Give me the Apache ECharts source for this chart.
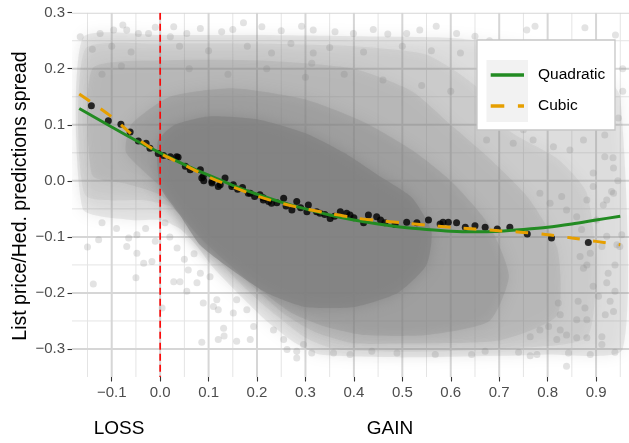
<!DOCTYPE html>
<html><head><meta charset="utf-8">
<script src="https://cdn.jsdelivr.net/npm/echarts@6/dist/echarts.min.js"></script>
<style>html,body{margin:0;padding:0;background:#fff}#c{width:629px;height:443px}</style>
</head><body><div id="c"></div><script>
// ---- axis limits and ticks ----
const X_MIN = -0.182, X_MAX = 0.968, Y_MIN = -0.35, Y_MAX = 0.3;
const xTicks = [-0.1, 0, 0.1, 0.2, 0.3, 0.4, 0.5, 0.6, 0.7, 0.8, 0.9];
const xMinorGrid = [-0.15, -0.05, 0.05, 0.15, 0.25, 0.35, 0.45, 0.55, 0.65, 0.75, 0.85, 0.95];
const yTicks = [-0.3, -0.2, -0.1, 0, 0.1, 0.2, 0.3];
const yMinorGrid = [-0.25, -0.15, -0.05, 0.05, 0.15, 0.25];
const vlineX = [0];

// ---- density of the raw scatter cloud, as nested outlines (outer -> core) ----
const cloudLayer1 = [[-0.16,0.255],[0.0,0.26],[0.2,0.26],[0.4,0.258],[0.6,0.255],[0.75,0.24],[0.9,0.2],[0.95,0.15],[0.955,-0.3],[0.8,-0.31],[0.5,-0.315],[0.33,-0.31],[0.28,-0.29],[0.22,-0.25],[0.16,-0.2],[0.11,-0.155],[0.07,-0.11],[0.04,-0.085],[0.0,-0.07],[-0.06,-0.07],[-0.16,-0.05]];
const cloudLayer2 = [[-0.155,0.235],[0.0,0.245],[0.2,0.245],[0.4,0.24],[0.55,0.225],[0.65,0.17],[0.72,0.09],[0.82,0.04],[0.88,-0.02],[0.9,-0.15],[0.88,-0.28],[0.7,-0.3],[0.5,-0.305],[0.36,-0.3],[0.3,-0.28],[0.24,-0.24],[0.18,-0.195],[0.13,-0.15],[0.09,-0.11],[0.05,-0.07],[0.02,-0.045],[-0.03,-0.035],[-0.155,-0.025]];
const cloudLayer3 = [[-0.14,0.2],[0.0,0.215],[0.2,0.215],[0.4,0.2],[0.52,0.16],[0.6,0.1],[0.68,0.04],[0.76,-0.03],[0.82,-0.12],[0.82,-0.24],[0.7,-0.285],[0.5,-0.29],[0.4,-0.29],[0.32,-0.27],[0.26,-0.24],[0.2,-0.195],[0.15,-0.155],[0.1,-0.115],[0.05,-0.07],[0.0,-0.025],[-0.07,-0.005],[-0.14,0.01]];
const cloudLayer4 = [[-0.07,0.05],[-0.06,0.1],[0.02,0.15],[0.15,0.165],[0.3,0.145],[0.42,0.105],[0.52,0.055],[0.6,0.0],[0.68,-0.08],[0.72,-0.17],[0.68,-0.25],[0.55,-0.275],[0.42,-0.275],[0.34,-0.26],[0.27,-0.235],[0.2,-0.19],[0.13,-0.14],[0.07,-0.09],[0.03,-0.045],[0.0,-0.01]];
const cloudCore = [[-0.005,0.07],[0.03,0.1],[0.1,0.115],[0.2,0.11],[0.3,0.085],[0.38,0.05],[0.45,0.01],[0.52,-0.03],[0.56,-0.09],[0.55,-0.15],[0.49,-0.2],[0.4,-0.225],[0.3,-0.225],[0.22,-0.2],[0.15,-0.16],[0.083,-0.115],[0.04,-0.06],[0.0,-0.01]];
const cloudLayerAlpha = [0.26, 0.17, 0.24, 0.43, 0.85];

// ---- individually visible raw points (sparse fringe and texture) ----
const rawPoints = [
[-0.077,0.278],[-0.124,0.263],[-0.01,0.274],[0.172,0.282],[0.292,0.276],[0.21,0.275],[-0.165,0.257],[0.028,0.275],[0.083,0.272],[0.127,0.266],[0.316,0.228],[0.313,0.21],
[0.570,0.276],[0.612,0.263],[0.774,0.276],[0.757,0.269],[0.877,0.273],[0.536,0.269],[0.509,0.263],[0.399,0.263],[0.361,0.266],[0.316,0.269],[0.702,0.245],[0.805,0.234],
[-0.045,0.263],[-0.024,0.263],[0.055,0.263],[0.021,0.257],[-0.069,0.269],[-0.096,0.269],[0.15,0.27],[0.25,0.268],[0.44,0.27],[0.47,0.262],[0.65,0.258],[0.68,0.25],
[-0.14,0.235],[-0.1,0.24],[-0.06,0.23],[0.04,0.24],[0.1,0.232],[0.18,0.24],[0.23,0.228],[0.27,0.245],[0.35,0.238],[0.42,0.23],[0.5,0.24],[0.56,0.232],[0.62,0.228],
[-0.12,0.19],[-0.08,0.205],[0.06,0.2],[0.14,0.19],[0.22,0.2],[0.3,0.185],[0.38,0.19],[0.46,0.18],[0.54,0.17],[0.6,0.16],
[0.946,0.112],[0.918,0.082],[0.874,0.073],[0.935,0.041],[0.918,0.043],[0.936,0.023],[0.894,0.014],[0.932,-0.019],[0.922,-0.034],[0.894,-0.01],[0.846,0.055],[0.812,0.061],[0.77,0.073],[0.729,0.067],[0.674,0.073],[0.75,0.091],
[0.955,0.2],[0.94,0.26],[0.955,0.16],[0.945,0.0],
[-0.15,-0.118],[-0.138,-0.184],[-0.127,-0.105],[-0.069,-0.117],[-0.048,-0.129],[-0.05,-0.173],[-0.034,-0.147],[-0.017,-0.144],[-0.01,-0.108],[0.004,-0.227],[-0.048,-0.096],[-0.065,-0.102],
[0.086,-0.288],[0.12,-0.283],[0.158,-0.286],[0.186,-0.283],[0.132,-0.277],[0.131,-0.263],[0.12,-0.23],[0.11,-0.224],[0.089,-0.218],[0.151,-0.236],[0.158,-0.212],[0.179,-0.23],[0.193,-0.26],
[0.041,-0.18],[0.028,-0.18],[0.055,-0.197],[0.076,-0.182],[0.058,-0.159],[0.083,-0.165],[0.103,-0.171],[0.117,-0.212],[0.234,-0.266],[0.255,-0.283],[0.262,-0.301],[0.282,-0.304],[0.296,-0.292],[0.282,-0.316],[0.313,-0.307],
[0.02,-0.1],[0.035,-0.12],[0.05,-0.14],[0.07,-0.13],[0.01,-0.075],[-0.03,-0.085],[-0.09,-0.085],[-0.12,-0.075],
[0.358,-0.307],[0.392,-0.31],[0.437,-0.304],[0.489,-0.307],[0.568,-0.31],[0.643,-0.31],[0.671,-0.304],[0.74,-0.306],[0.764,-0.312],[0.778,-0.31],[0.839,-0.331],[0.888,-0.31],[0.843,-0.307],[0.939,-0.306],
[0.912,-0.278],[0.912,-0.292],[0.881,-0.28],[0.86,-0.28],[0.819,-0.283],[0.839,-0.275],[0.826,-0.266],[0.802,-0.26],[0.764,-0.278],[0.784,-0.266],
[0.939,-0.197],[0.936,-0.233],[0.919,-0.239],[0.929,-0.215],[0.905,-0.206],[0.894,-0.188],[0.922,-0.182],[0.939,-0.15],[0.925,-0.165],[0.943,-0.114],[0.912,-0.117],[0.888,-0.129],[0.867,-0.135],[0.874,-0.156],[0.881,-0.15],
[0.863,-0.215],[0.877,-0.227],[0.881,-0.248],[0.86,-0.248],[0.826,-0.239],[0.822,-0.218],
[0.915,-0.043],[0.936,-0.022],[0.922,-0.099],[0.953,-0.096],[0.949,-0.117],[0.901,-0.07],[0.881,-0.034],[0.86,-0.064],[0.87,-0.087],[0.839,-0.052],[0.805,-0.04],[0.829,-0.028],[0.784,-0.022]
];

// ---- binned means (black points) ----
const binnedMeans = [
[-0.142,0.134],[-0.107,0.107],[-0.081,0.101],[-0.062,0.087],[-0.045,0.071],[-0.029,0.067],[-0.021,0.058],[-0.004,0.049],
[0.007,0.045],[0.021,0.043],[0.034,0.043],[0.037,0.042],[0.052,0.026],[0.062,0.020],[0.083,0.020],[0.086,0.005],[0.089,0.008],[0.09,0.0],
[0.107,-0.001],[0.107,-0.004],[0.120,-0.010],[0.124,-0.007],[0.134,0.005],[0.148,-0.010],[0.151,-0.007],[0.16,-0.015],[0.17,-0.012],
[0.182,-0.022],[0.186,-0.022],[0.195,-0.028],[0.206,-0.025],[0.213,-0.030],[0.213,-0.034],[0.224,-0.037],[0.230,-0.040],[0.241,-0.039],
[0.255,-0.031],[0.26,-0.045],[0.272,-0.052],[0.282,-0.037],[0.29,-0.048],[0.303,-0.055],[0.306,-0.043],[0.323,-0.055],[0.330,-0.058],
[0.34,-0.06],[0.351,-0.067],[0.36,-0.063],[0.372,-0.055],[0.385,-0.058],[0.392,-0.061],[0.40,-0.066],[0.420,-0.075],[0.430,-0.061],
[0.447,-0.064],[0.455,-0.07],[0.464,-0.075],[0.485,-0.078],[0.509,-0.074],[0.530,-0.075],[0.554,-0.070],[0.578,-0.077],[0.584,-0.074],
[0.595,-0.074],[0.612,-0.075],[0.630,-0.083],[0.650,-0.080],[0.671,-0.083],[0.696,-0.086],[0.722,-0.083],[0.758,-0.095],[0.808,-0.102],[0.884,-0.110]
];

// ---- fitted curves ----
const quadraticFit = [[-0.167,0.129],[-0.1,0.096],[-0.05,0.072],[0,0.050],[0.05,0.029],[0.1,0.010],[0.15,-0.008],[0.2,-0.024],[0.25,-0.038],[0.3,-0.050],[0.35,-0.061],[0.4,-0.070],[0.45,-0.077],[0.5,-0.083],[0.55,-0.087],[0.6,-0.090],[0.65,-0.091],[0.7,-0.090],[0.75,-0.087],[0.8,-0.083],[0.85,-0.077],[0.9,-0.070],[0.95,-0.063]];
const cubicFit = [[-0.167,0.155],[-0.1,0.114],[-0.05,0.077],[0,0.049],[0.05,0.028],[0.1,0.007],[0.15,-0.011],[0.2,-0.027],[0.25,-0.040],[0.3,-0.050],[0.35,-0.058],[0.4,-0.066],[0.45,-0.071],[0.5,-0.075],[0.55,-0.079],[0.6,-0.083],[0.65,-0.086],[0.7,-0.089],[0.75,-0.092],[0.8,-0.096],[0.85,-0.102],[0.9,-0.108],[0.95,-0.114]];

const legendLabels = ['Quadratic', 'Cubic'];
const xGroupLabels = ['LOSS', 'GAIN'];
const yTitle = 'List price/Hed. predictions spread';

const FONT = '"Liberation Sans", Arial, sans-serif';
const GREEN = '#228B22', ORANGE = '#E69F00';

function fmt(v) {
  const s = Math.abs(v).toFixed(1);
  return v < -1e-9 ? '\u2212' + s : s;
}
function vLines(vals, color, width, z, dash) {
  return { type: 'custom', silent: true, z: z, clip: true, data: vals.map(v => [v, 0]),
    renderItem: (p, api) => { const v = api.value(0); const a = api.coord([v, Y_MAX]), b = api.coord([v, Y_MIN]);
      const st = { stroke: color, lineWidth: width }; if (dash) st.lineDash = dash;
      return { type: 'line', shape: { x1: a[0], y1: a[1], x2: b[0], y2: b[1] }, style: st }; } };
}
function hLines(vals, color, width, z) {
  return { type: 'custom', silent: true, z: z, clip: true, data: vals.map(v => [0, v]),
    renderItem: (p, api) => { const v = api.value(1); const a = api.coord([X_MIN, v]), b = api.coord([X_MAX, v]);
      return { type: 'line', shape: { x1: a[0], y1: a[1], x2: b[0], y2: b[1] }, style: { stroke: color, lineWidth: width } }; } };
}
// each layer is drawn with a blurred halo of the same tone; its alpha is split so that
// fill + halo give the layer's coverage inside the outline
function layer(points, alpha, z) {
  const a = 1 - Math.sqrt(1 - alpha);
  const col = 'rgba(127,127,127,' + a.toFixed(3) + ')';
  return { type: 'custom', silent: true, z: z, clip: true, data: [[0, 0]],
    renderItem: (p, api) => ({ type: 'polygon', shape: { points: points.map(q => api.coord(q)), smooth: 0.2 },
      style: { fill: col, shadowBlur: 14, shadowColor: 'rgba(127,127,127,1)' } }) };
}

const chart = echarts.init(document.getElementById('c'), null, { renderer: 'canvas' });
const layers = [cloudLayer1, cloudLayer2, cloudLayer3, cloudLayer4, cloudCore];

chart.setOption({
  animation: false,
  backgroundColor: '#fff',
  grid: { left: 72, right: 0, top: 12.7, bottom: 66, containLabel: false, outerBoundsMode: 'none' },
  xAxis: {
    type: 'value', min: X_MIN, max: X_MAX,
    axisLine: { show: false, onZero: false },
    splitLine: { show: false },
    axisTick: { show: true, length: 4.5, lineStyle: { color: '#333', width: 1.1 }, customValues: xTicks },
    axisLabel: { customValues: xTicks, formatter: fmt, color: '#4d4d4d', fontSize: 15, fontFamily: FONT, margin: 8 }
  },
  yAxis: {
    type: 'value', min: Y_MIN, max: Y_MAX,
    axisLine: { show: false, onZero: false },
    splitLine: { show: false },
    axisTick: { show: true, length: 4.5, lineStyle: { color: '#333', width: 1.1 }, customValues: yTicks },
    axisLabel: { customValues: yTicks, formatter: fmt, color: '#4d4d4d', fontSize: 15, fontFamily: FONT, margin: 7 }
  },
  series: [
    vLines(xMinorGrid, '#e4e4e4', 1, 1),
    hLines(yMinorGrid, '#e4e4e4', 1, 1),
    vLines(xTicks, '#d6d6d6', 2, 1),
    hLines(yTicks, '#d6d6d6', 2, 1),
    ...layers.map((l, i) => layer(l, cloudLayerAlpha[i], 2)),
    { type: 'scatter', silent: true, z: 3, data: rawPoints, symbolSize: 7,
      itemStyle: { color: '#7f7f7f', opacity: 0.22 } },
    vLines(vlineX, '#ff0000', 1.6, 4, [7, 4]),
    { type: 'scatter', silent: true, z: 5, data: binnedMeans, symbolSize: 7, itemStyle: { color: '#000' } },
    { type: 'line', name: legendLabels[0], z: 6, data: quadraticFit, showSymbol: false, smooth: 0.3,
      lineStyle: { color: GREEN, width: 3 } },
    { type: 'line', name: legendLabels[1], z: 7, data: cubicFit, showSymbol: false, smooth: 0.3,
      lineStyle: { color: ORANGE, width: 3, type: [13, 13] } }
  ],
  graphic: [
    { type: 'text', z: 102, x: 21, y: 196, rotation: Math.PI / 2,
      style: { text: yTitle, fill: '#000', font: '19.5px ' + FONT, align: 'center', verticalAlign: 'middle' } },
    { type: 'rect', z: 100, shape: { x: 477, y: 40, width: 138, height: 90 }, style: { fill: '#fff', stroke: '#c6c6c6', lineWidth: 1.3 } },
    { type: 'rect', z: 101, shape: { x: 486.5, y: 60, width: 41.5, height: 62 }, style: { fill: '#f2f2f2' } },
    { type: 'line', z: 102, shape: { x1: 490.7, y1: 75, x2: 524, y2: 75 }, style: { stroke: GREEN, lineWidth: 3.3 } },
    { type: 'line', z: 102, shape: { x1: 490.7, y1: 106, x2: 524, y2: 106 }, style: { stroke: ORANGE, lineWidth: 3.3, lineDash: [13.6, 13.6] } },
    { type: 'text', z: 102, x: 538, y: 75, style: { text: legendLabels[0], fill: '#000', font: '15.5px ' + FONT, verticalAlign: 'middle' } },
    { type: 'text', z: 102, x: 538, y: 106, style: { text: legendLabels[1], fill: '#000', font: '15.5px ' + FONT, verticalAlign: 'middle' } },
    { type: 'text', z: 102, x: 119, y: 428.5, style: { text: xGroupLabels[0], fill: '#000', font: '19px ' + FONT, align: 'center', verticalAlign: 'middle' } },
    { type: 'text', z: 102, x: 390, y: 428.5, style: { text: xGroupLabels[1], fill: '#000', font: '19px ' + FONT, align: 'center', verticalAlign: 'middle' } }
  ]
});
</script></body></html>
